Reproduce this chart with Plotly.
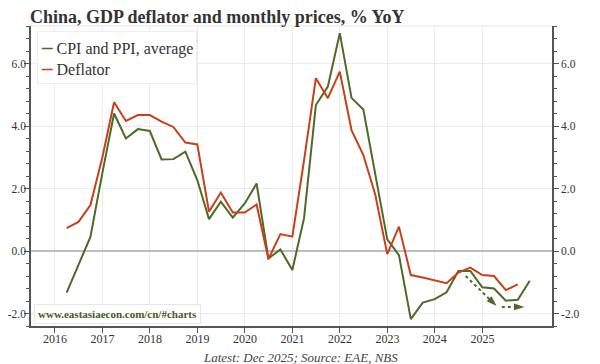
import pandas as pd
import plotly.graph_objects as go

# Quarter-end dates, 2016Q1 .. 2025Q4
quarters = ["2016-03-31", "2016-06-30", "2016-09-30", "2016-12-31",
            "2017-03-31", "2017-06-30", "2017-09-30", "2017-12-31",
            "2018-03-31", "2018-06-30", "2018-09-30", "2018-12-31",
            "2019-03-31", "2019-06-30", "2019-09-30", "2019-12-31",
            "2020-03-31", "2020-06-30", "2020-09-30", "2020-12-31",
            "2021-03-31", "2021-06-30", "2021-09-30", "2021-12-31",
            "2022-03-31", "2022-06-30", "2022-09-30", "2022-12-31",
            "2023-03-31", "2023-06-30", "2023-09-30", "2023-12-31",
            "2024-03-31", "2024-06-30", "2024-09-30", "2024-12-31",
            "2025-03-31", "2025-06-30", "2025-09-30", "2025-12-31"]

cpi_ppi_avg = [-1.33, -0.45, 0.45, 2.5, 4.40, 3.60, 3.90, 3.84, 2.93, 2.94, 3.18, 2.27,
               1.02, 1.58, 1.07, 1.52, 2.16, -0.24, 0.05, -0.61,
               1.05, 4.67, 5.26, 6.97, 4.90, 4.53, 2.40, 0.37,
               -0.13, -2.18, -1.65, -1.54, -1.32, -0.64, -0.64, -1.16,
               -1.20, -1.59, -1.56, -0.95]

deflator = [0.73, 0.93, 1.47, 3.00, 4.76, 4.16, 4.35, 4.35, 4.14, 3.97, 3.47, 3.41,
            1.26, 1.87, 1.23, 1.23, 1.49, -0.26, 0.54, 0.46,
            2.90, 5.53, 4.89, 5.74, 3.87, 3.07, 1.80, -0.10,
            0.78, -0.77, -0.85, -0.95, -1.03, -0.69, -0.53, -0.77,
            -0.80, -1.25, -1.07]

series_names = ["CPI and PPI, average", "Deflator"]

# Dashed trend arrows (annotation)
arrow1_x = ["2024-08-25", "2025-04-20"]
arrow1_y = [-0.80, -1.76]
arrow2_x = ["2025-05-30", "2025-11-20"]
arrow2_y = [-1.79, -1.79]

year_ticks = ["2016-01-01", "2017-01-01", "2018-01-01", "2019-01-01", "2020-01-01",
              "2021-01-01", "2022-01-01", "2023-01-01", "2024-01-01", "2025-01-01"]
year_labels = ["2016", "2017", "2018", "2019", "2020", "2021", "2022", "2023", "2024", "2025"]

y_tickvals = [-2, 0, 2, 4, 6]
y_ticktext = ["-2.0", "0.0", "2.0", "4.0", "6.0"]

GREEN = "#4d6a27"
RED = "#c8401a"
AXIS = "#555555"
GRID = "#ebebeb"
FONT = "Liberation Serif"

W, H = 592, 356
ML, MR, MT, MB = 23, 48, 18, 38
PW, PH = W - ML - MR, H - MT - MB

fig = go.Figure()
fig.add_trace(go.Scatter(x=quarters, y=cpi_ppi_avg, mode="lines", name=series_names[0],
                         line=dict(color=GREEN, width=2), showlegend=False))
fig.add_trace(go.Scatter(x=quarters[:len(deflator)], y=deflator, mode="lines", name=series_names[1],
                         line=dict(color=RED, width=2), showlegend=False))
for ax, ay in [(arrow1_x, arrow1_y), (arrow2_x, arrow2_y)]:
    fig.add_trace(go.Scatter(x=ax, y=ay, mode="lines+markers", showlegend=False, yaxis="y2",
                             line=dict(color=GREEN, width=2, dash="3px,3px"),
                             marker=dict(symbol="arrow", angleref="previous", size=[0, 11],
                                         color=GREEN, line=dict(width=0), opacity=1),
                             hoverinfo="skip"))

yrange = [-2.4, 7.2]
common_y = dict(range=yrange, tickvals=y_tickvals, ticktext=y_ticktext, ticks="outside",
                ticklen=5, tickcolor=AXIS, tickwidth=1, showline=True, linecolor=AXIS,
                linewidth=1.5, tickfont=dict(size=11.5, color="#333", family=FONT),
                automargin=False,
                minor=dict(dtick=0.4, tick0=0, ticks="outside", ticklen=3, tickcolor=AXIS,
                           showgrid=False))

fig.update_layout(
    width=W, height=H,
    margin=dict(l=ML, r=MR, t=MT, b=MB, autoexpand=False),
    paper_bgcolor="white", plot_bgcolor="white",
    font=dict(family=FONT, color="#333"),
    title=dict(text="<b>China, GDP deflator and monthly prices, % YoY</b>",
               x=22 / W, xanchor="left", xref="container",
               y=1 - 9 / H, yanchor="middle", yref="container", automargin=False,
               font=dict(size=18, color="#333", family=FONT)),
    xaxis=dict(type="date", range=["2015-07-01", "2026-06-20"], tickvals=year_ticks,
               ticktext=year_labels, ticks="outside", ticklen=5, tickcolor=AXIS,
               showline=True, linecolor=AXIS, linewidth=1.5, showgrid=True,
               gridcolor=GRID, gridwidth=1, zeroline=False, automargin=False,
               ticklabelstandoff=-4,
               tickfont=dict(size=12, color="#333", family=FONT)),
    yaxis=dict(**common_y, side="left", showgrid=True, gridcolor=GRID, gridwidth=1,
               zeroline=True, zerolinecolor="#bdbdbd", zerolinewidth=2,
               ticklabelstandoff=-4),
    yaxis2=dict(**common_y, side="right", overlaying="y", anchor="x", showgrid=False,
                zeroline=False),
    showlegend=False,
)

fig.add_shape(type="line", xref="paper", yref="paper", x0=0, x1=1, y0=1, y1=1,
              line=dict(color="#e6e6e6", width=1))

# Legend box (coloured dash + series name)
legend_text = "<br>".join(
    f'<span style="color:{c};font-size:21px"><b>–</b></span> {n}'
    for c, n in zip([GREEN, RED], series_names))
fig.add_annotation(text=legend_text, xref="paper", yref="paper",
                   x=(29 - ML) / PW, y=1 - (23 - MT) / PH, xanchor="left", yanchor="top",
                   align="left", showarrow=False,
                   font=dict(size=16, color="#333", family=FONT),
                   bgcolor="rgba(255,255,255,0.92)", bordercolor="#eeeeee", borderwidth=1,
                   borderpad=3)

fig.add_annotation(text="<b>www.eastasiaecon.com/cn/#charts</b>", xref="paper", yref="paper",
                   x=0.006, y=0.04, xanchor="left", yanchor="middle", showarrow=False,
                   font=dict(size=11, color="#3f5a1f", family=FONT),
                   bgcolor="white", bordercolor="#e6e6e6", borderwidth=1, borderpad=3)

fig.add_annotation(text="<i>Latest: Dec 2025; Source: EAE, NBS</i>", xref="paper", yref="paper",
                   x=(292 - ML) / PW, y=(PH + MT - 349) / PH, xanchor="center", yanchor="middle",
                   showarrow=False, font=dict(size=13, color="#444", family=FONT))

fig.write_html("out.html")
